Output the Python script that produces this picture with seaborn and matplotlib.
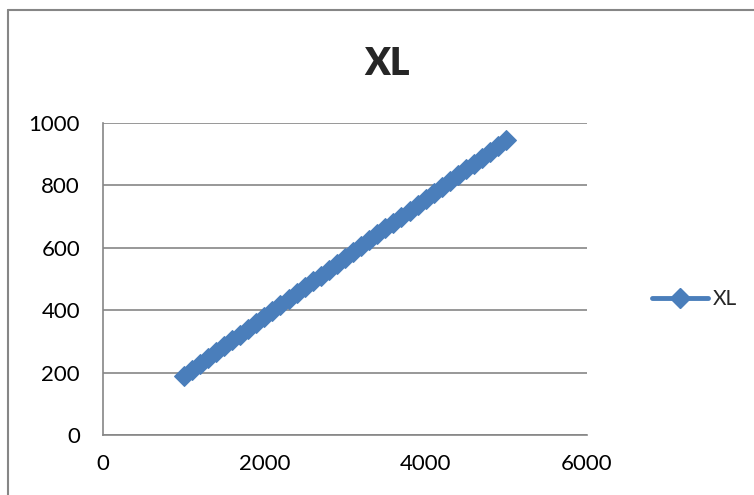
import matplotlib
matplotlib.use("Agg")
import matplotlib.pyplot as plt
from matplotlib.lines import Line2D
import seaborn as sns
import pandas as pd

x_vals = [1000, 1100, 1200, 1300, 1400, 1500, 1600, 1700, 1800, 1900,
          2000, 2100, 2200, 2300, 2400, 2500, 2600, 2700, 2800, 2900,
          3000, 3100, 3200, 3300, 3400, 3500, 3600, 3700, 3800, 3900,
          4000, 4100, 4200, 4300, 4400, 4500, 4600, 4700, 4800, 4900, 5000]
y_vals = [190, 209, 228, 247, 265, 284, 303, 322, 341, 360,
          379, 398, 417, 435, 454, 473, 492, 511, 530, 549,
          568, 586, 605, 624, 643, 662, 681, 700, 719, 737,
          756, 775, 794, 813, 832, 851, 870, 888, 907, 926, 945]
series_name = "XL"
x_ticks = [0, 2000, 4000, 6000]
y_ticks = [0, 200, 400, 600, 800, 1000]

sns.set_theme(style="white")
plt.rcParams['font.family'] = ['Lato', 'DejaVu Sans']

df = pd.DataFrame({"x": x_vals, "y": y_vals, "s": series_name})

fig = plt.figure(figsize=(7.54, 4.95), dpi=100)
ax = fig.add_axes([103/754, 1-435/495, (587-103)/754, (435-123)/495])

color = "#4a7ebb"
sns.lineplot(data=df, x="x", y="y", hue="s", palette=[color], ax=ax,
             marker="D", markersize=10, markeredgecolor=color, linewidth=3.5,
             legend=False)

ax.set_xlim(0, 6000)
ax.set_ylim(0, 1000)
ax.set_xticks(x_ticks)
ax.set_yticks(y_ticks)
ax.set_xlabel("")
ax.set_ylabel("")
ax.grid(axis="y", color="#868686", linewidth=1.2)
ax.grid(axis="x", visible=False)
for s in ["top", "right"]:
    ax.spines[s].set_visible(False)
for s in ["left", "bottom"]:
    ax.spines[s].set_color("#868686")
    ax.spines[s].set_linewidth(1.2)
ax.tick_params(axis="both", which="major", direction="out", length=5,
               width=1.2, color="#868686", labelsize=16, labelcolor="black")
ax.tick_params(axis="x", pad=9)
ax.tick_params(axis="y", pad=11.5)

fig.text(387/754, 1-64/495, "XL", ha="center", va="center",
         fontsize=27, fontweight="heavy")

# legend
h = Line2D([], [], color=color, marker="D", markersize=10, linewidth=3.5)
fig.legend([h], [series_name], loc="center left",
           bbox_to_anchor=(652/754, 1-299/495), frameon=False,
           fontsize=15, handlelength=2.7, handletextpad=0.2,
           borderpad=0, borderaxespad=0)

# outer frame (top and left edges visible)
fig.add_artist(Line2D([8/754, 1], [1-10/495, 1-10/495],
                      transform=fig.transFigure, color="#868686", linewidth=1.5))
fig.add_artist(Line2D([8/754, 8/754], [0, 1-10/495],
                      transform=fig.transFigure, color="#868686", linewidth=1.5))

fig.savefig("out.png", dpi=100)
